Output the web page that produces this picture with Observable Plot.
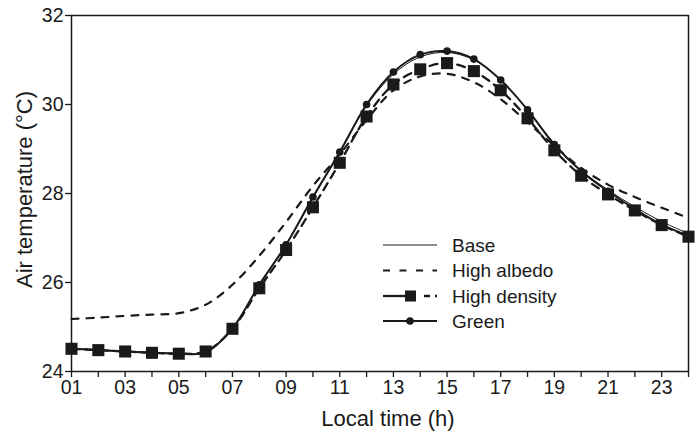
<!DOCTYPE html>
<html>
<head>
<meta charset="utf-8">
<script src="https://cdn.jsdelivr.net/npm/d3@7"></script>
<script src="https://cdn.jsdelivr.net/npm/@observablehq/plot@0.6"></script>
<style>
  html, body { margin: 0; padding: 0; background: #fff; }
  #wrap { position: relative; width: 697px; height: 432px; font-family: "Liberation Sans", Arial, sans-serif; }
  #legend { position: absolute; left: 0; top: 0; pointer-events: none; }
</style>
</head>
<body>
<div id="wrap"></div>
<script>
// Local time (h)
const hours = [1,2,3,4,5,6,7,8,9,10,11,12,13,14,15,16,17,18,19,20,21,22,23,24];
// Air temperature (°C) per scenario
const base    = [24.52,24.49,24.46,24.43,24.41,24.44,24.98,25.93,26.84,27.90,28.92,29.97,30.68,31.07,31.17,31.00,30.55,29.88,29.12,28.52,28.08,27.70,27.37,27.10];
const albedo  = [25.18,25.21,25.25,25.28,25.31,25.50,25.95,26.60,27.36,28.17,28.88,29.65,30.32,30.63,30.69,30.50,30.12,29.60,29.07,28.57,28.20,27.92,27.68,27.45];
const density = [24.51,24.48,24.45,24.42,24.40,24.45,24.96,25.87,26.73,27.69,28.69,29.73,30.45,30.79,30.93,30.75,30.32,29.69,28.97,28.40,27.98,27.62,27.29,27.03];
const green   = [24.51,24.48,24.45,24.42,24.40,24.43,24.97,25.95,26.85,27.92,28.93,30.00,30.73,31.12,31.20,31.02,30.55,29.88,29.10,28.50,28.05,27.65,27.30,27.05];
const yTicks = [24,26,28,30,32];
const seriesNames = ["Base","High albedo","High density","Green"];

const table = (vals) => hours.map((h, i) => ({h, v: vals[i]}));
const dBase = table(base), dAlb = table(albedo), dDen = table(density), dGreen = table(green);
const ink = "#1a1a1a";

const chart = Plot.plot({
  width: 697,
  height: 432,
  marginLeft: 71,
  marginRight: 9,
  marginTop: 15,
  marginBottom: 61,
  style: {fontFamily: "'Liberation Sans', Arial, sans-serif", background: "white", color: ink},
  x: {domain: [1, 24]},
  y: {domain: [24, 32]},
  marks: [
    Plot.axisX({ticks: hours, tickSize: 6, tickPadding: 3, fontSize: 19.5, label: null,
      tickFormat: d => d % 2 ? String(d).padStart(2, "0") : "", stroke: ink, strokeWidth: 1.3}),
    Plot.axisY({ticks: yTicks, tickSize: 6, tickPadding: 2, fontSize: 19.5, label: null,
      tickFormat: d => String(d), stroke: ink, strokeWidth: 1.3}),
    Plot.frame({stroke: ink, strokeWidth: 1.5}),
    Plot.line(dAlb, {x: "h", y: "v", curve: "catmull-rom", stroke: ink, strokeWidth: 2.2, strokeDasharray: "7,8"}),
    Plot.line(dBase, {x: "h", y: "v", curve: "catmull-rom", stroke: ink, strokeWidth: 1}),
    Plot.line(dDen, {x: "h", y: "v", curve: "catmull-rom", stroke: ink, strokeWidth: 2.3, strokeDasharray: "8,6"}),
    Plot.line(dGreen, {x: "h", y: "v", curve: "catmull-rom", stroke: ink, strokeWidth: 2}),
    Plot.dot(dDen, {x: "h", y: "v", symbol: "square", r: 6.8, fill: ink, stroke: "none"}),
    Plot.dot(dGreen, {x: "h", y: "v", symbol: "circle", r: 3.8, fill: ink, stroke: "none"}),
    Plot.text(["Local time (h)"], {frameAnchor: "bottom", dx: 8, dy: 47, fontSize: 22, fill: ink, lineAnchor: "middle", textAnchor: "middle"}),
    Plot.text(["Air temperature (°C)"], {frameAnchor: "left", dx: -47, dy: -4, rotate: -90, fontSize: 22, fill: ink, lineAnchor: "middle", textAnchor: "middle"})
  ]
});
const wrap = document.getElementById("wrap");
wrap.appendChild(chart);

// Legend (inside the plot area, drawn as an overlay)
const lg = d3.select(wrap).append("svg").attr("id", "legend").attr("width", 697).attr("height", 432);
const rowY = [245, 270.5, 296, 321];
const x0 = 383, x1 = 437, tx = 452;
seriesNames.forEach((name, i) => {
  const y = rowY[i];
  const g = lg.append("g");
  if (i === 0) {
    g.append("line").attr("x1", x0).attr("x2", x1).attr("y1", y).attr("y2", y).attr("stroke", ink).attr("stroke-width", 1);
  } else if (i === 1) {
    g.append("line").attr("x1", x0).attr("x2", x1).attr("y1", y).attr("y2", y).attr("stroke", ink).attr("stroke-width", 2.2).attr("stroke-dasharray", "7,9.5");
  } else if (i === 2) {
    g.append("line").attr("x1", x0).attr("x2", 410).attr("y1", y).attr("y2", y).attr("stroke", ink).attr("stroke-width", 2.3);
    g.append("line").attr("x1", 424).attr("x2", x1).attr("y1", y).attr("y2", y).attr("stroke", ink).attr("stroke-width", 2.3).attr("stroke-dasharray", "6,5");
    g.append("rect").attr("x", 405).attr("y", y - 5.5).attr("width", 11).attr("height", 11).attr("fill", ink);
  } else {
    g.append("line").attr("x1", x0).attr("x2", x1).attr("y1", y).attr("y2", y).attr("stroke", ink).attr("stroke-width", 1.8);
    g.append("circle").attr("cx", 410).attr("cy", y).attr("r", 3.8).attr("fill", ink);
  }
  g.append("text").attr("x", tx).attr("y", y).attr("dy", "0.35em").attr("font-size", 19)
    .attr("font-family", "'Liberation Sans', Arial, sans-serif").attr("fill", ink).text(name);
});
</script>
</body>
</html>
